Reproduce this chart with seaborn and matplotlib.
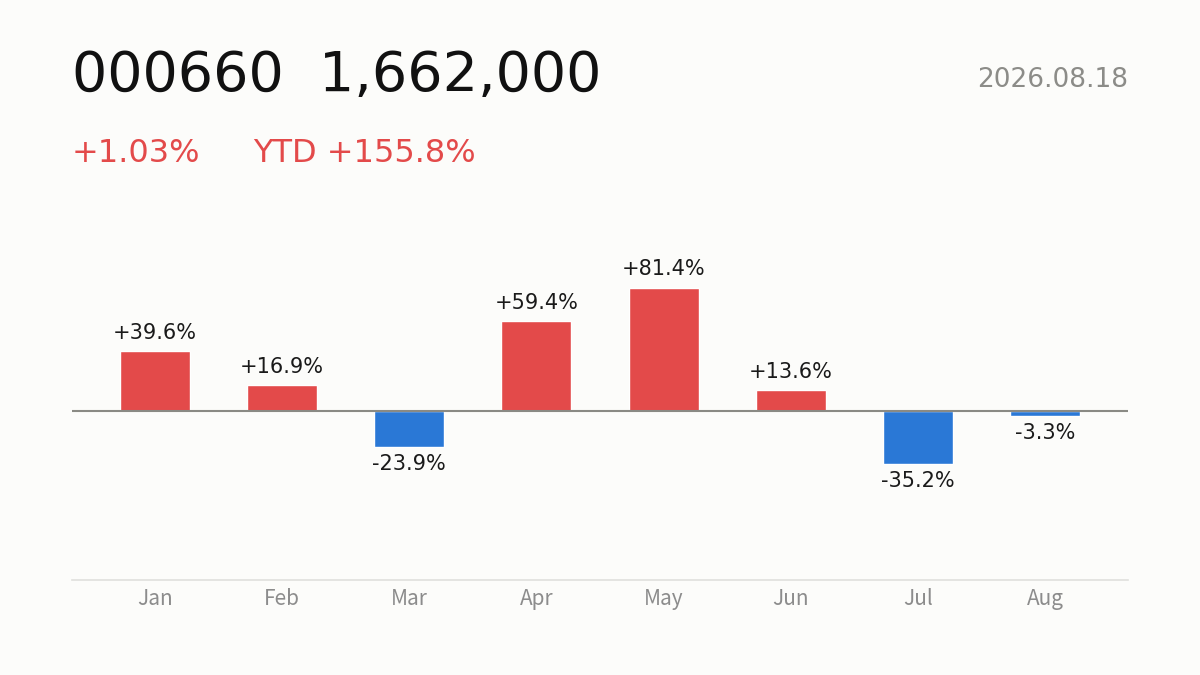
import matplotlib
matplotlib.use("Agg")
import matplotlib.pyplot as plt
import numpy as np
import pandas as pd
import seaborn as sns

# data
months = ['Jan', 'Feb', 'Mar', 'Apr', 'May', 'Jun', 'Jul', 'Aug']
returns = [39.6, 16.9, -23.9, 59.4, 81.4, 13.6, -35.2, -3.3]
ticker = '000660'
price = '1,662,000'
day_change = '+1.03%'
ytd = 'YTD +155.8%'
date_str = '2026.08.18'

RED = '#E34A4A'
BLUE = '#2A78D6'
BG = '#FCFCFA'

sns.set_theme(style='white')
plt.rcParams['font.family'] = ['DejaVu Sans']

df = pd.DataFrame({'month': months, 'ret': returns})
colors = [RED if v >= 0 else BLUE for v in returns]

fig = plt.figure(figsize=(12, 6.75), dpi=100, facecolor=BG)
ax = fig.add_axes([0.06, 1 - 580 / 675, 0.88, (580 - 220) / 675])
ax.set_facecolor(BG)

sns.barplot(data=df, x='month', y='ret', hue='month', palette=colors,
            legend=False, width=0.55, saturation=1, ax=ax)

ax.set_xlim(-0.653, 7.653)
ax.set_ylim(-111.5, 126)

ax.axhline(0, color='#8A8A84', lw=1.5, zorder=3)

for i, v in enumerate(returns):
    lab = f'{v:+.1f}%'
    if v >= 0:
        ax.annotate(lab, (i, v), xytext=(0, 6), textcoords='offset points',
                    ha='center', va='bottom', fontsize=15, color='#1a1a1a')
    else:
        ax.annotate(lab, (i, v), xytext=(0, -5), textcoords='offset points',
                    ha='center', va='top', fontsize=15, color='#1a1a1a')

for s in ['top', 'left', 'right']:
    ax.spines[s].set_visible(False)
ax.spines['bottom'].set_color('#E0E0DC')
ax.spines['bottom'].set_linewidth(1.2)
ax.set_yticks([])
ax.set_xlabel('')
ax.set_ylabel('')
ax.tick_params(axis='x', length=0, pad=6, labelsize=15, labelcolor='#8C8C8C')
for t in ax.get_xticklabels():
    t.set_fontfamily(['Noto Sans CJK JP', 'DejaVu Sans'])

# header texts
fig.text(72 / 1200, 1 - 91 / 675, f'{ticker}  {price}', fontsize=40,
         color='#111111', ha='left', va='baseline')
fig.text(1128 / 1200, 1 - 87 / 675, date_str, fontsize=19,
         color='#8C8C88', ha='right', va='baseline')
fig.text(72 / 1200, 1 - 162 / 675, day_change, fontsize=23,
         color=RED, ha='left', va='baseline')
fig.text(253 / 1200, 1 - 162 / 675, ytd, fontsize=23,
         color=RED, ha='left', va='baseline')

fig.savefig('out.png', dpi=100, facecolor=BG)
